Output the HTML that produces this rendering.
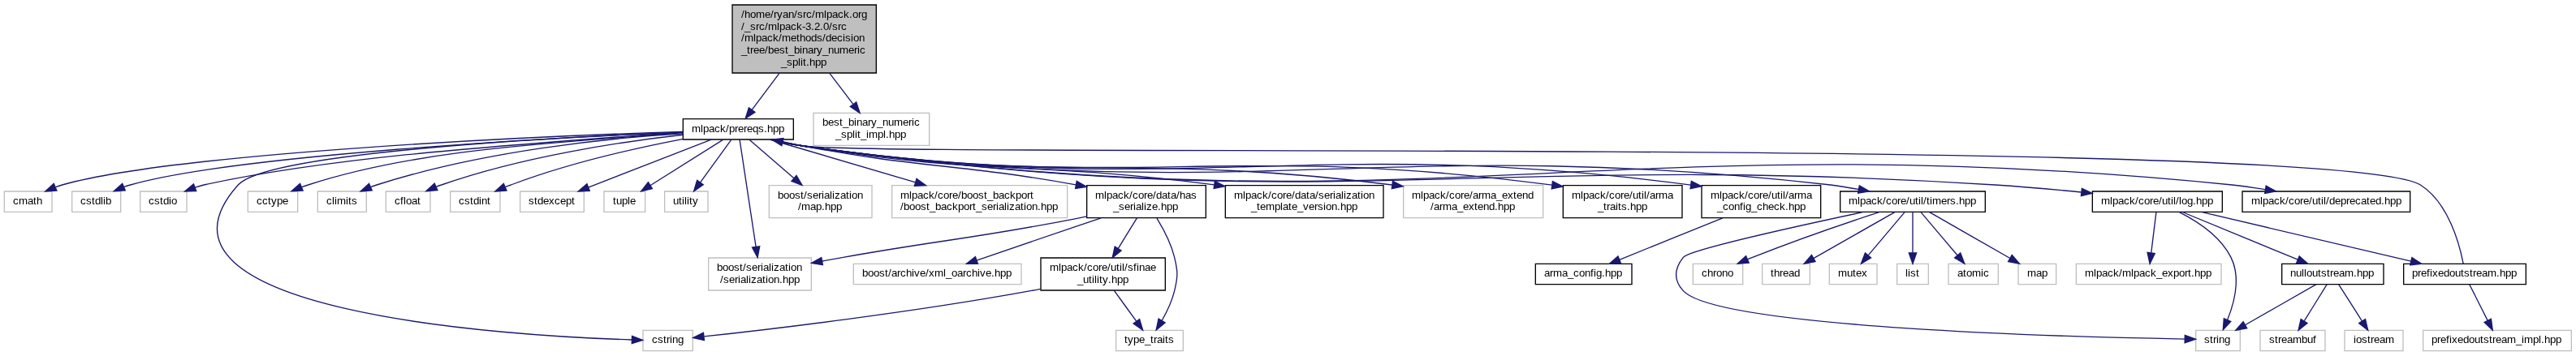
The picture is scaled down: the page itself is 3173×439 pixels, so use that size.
<!DOCTYPE html>
<html lang="en">
<head>
<meta charset="utf-8">
<title>best_binary_numeric_split.hpp include dependency graph</title>
<style>
html,body{margin:0;padding:0;background:#fff;}
body{width:3173px;height:439px;overflow:hidden;}
svg{display:block;will-change:transform;}
svg text{font-family:"Liberation Sans",Helvetica,Arial,sans-serif;font-size:10px;fill:#000;text-anchor:start;}
</style>
</head>
<body>
<svg width="3173" height="439" viewBox="0 0 2379.75 329.25">
<g class="graph" transform="translate(4 325)">
<polygon fill="white" stroke="none" points="-4,4 -4,-325 2375.5,-325 2375.5,4 -4,4"/>
<g class="node">
<polygon fill="#bfbfbf" stroke="black" points="672.5,-257.5 672.5,-320.5 805.5,-320.5 805.5,-257.5 672.5,-257.5"/>
<text x="680.75 683.75 689 694.25 702.5 707.75 710.75 713.75 719 724.25 729.5 732.5 737.75 740.75 746 749 757.25 759.5 764.75 770 775.25 780.5 783.5 788.75 791.75" y="-308.5">/home/ryan/src/mlpack.org</text>
<text x="680.75 683.75 689 694.25 697.25 702.5 705.5 713.75 716 721.25 726.5 731.75 737 740 745.25 748.25 753.5 756.5 761.75 764.75 770 773" y="-297.25">/_src/mlpack-3.2.0/src</text>
<text x="680.75 683.75 692 694.25 699.5 704.75 710 715.25 718.25 726.5 731.75 734.75 740 745.25 750.5 755.75 758.75 764 769.25 774.5 776.75 782 784.25 789.5" y="-286.75">/mlpack/methods/decision</text>
<text x="680.75 686 689 692 697.25 702.5 705.5 710.75 716 721.25 724.25 729.5 734.75 737 742.25 747.5 750.5 755.75 761 766.25 771.5 779.75 785 788 790.25" y="-275.5">_tree/best_binary_numeric</text>
<text x="717.5 722.75 728 733.25 735.5 737.75 740.75 743.75 749 754.25" y="-264.25">_split.hpp</text>
</g>
<g class="node">
<polygon fill="white" stroke="black" points="627,-196 627,-215 729,-215 729,-196 627,-196"/>
<text x="635 643.25 645.5 650.75 656 661.25 666.5 669.5 674.75 677.75 683 686 691.25 696.5 701.75 704.75 710 715.25" y="-202.75">mlpack/prereqs.hpp</text>
</g>
<g class="edge">
<path fill="none" stroke="midnightblue" d="M715.94,-257.19C707.36,-245.73 697.95,-233.16 690.65,-223.4"/>
<polygon fill="midnightblue" stroke="midnightblue" points="693.41,-221.25 684.62,-215.34 687.81,-225.44 693.41,-221.25"/>
</g>
<g class="node">
<polygon fill="white" stroke="#bfbfbf" points="747.5,-190.5 747.5,-220.5 854.5,-220.5 854.5,-190.5 747.5,-190.5"/>
<text x="755.75 761 766.25 771.5 774.5 779.75 785 787.25 792.5 797.75 800.75 806 811.25 816.5 821.75 830 835.25 838.25 840.5" y="-208.75">best_binary_numeric</text>
<text x="767.75 773 778.25 783.5 785.75 788 791 796.25 798.5 806.75 812 814.25 817.25 822.5 827.75" y="-197.5">_split_impl.hpp</text>
</g>
<g class="edge">
<path fill="none" stroke="midnightblue" d="M762.44,-257.19C769.64,-247.72 777.42,-237.49 784.1,-228.72"/>
<polygon fill="midnightblue" stroke="midnightblue" points="787.07,-230.59 790.34,-220.52 781.5,-226.36 787.07,-230.59"/>
</g>
<g class="node">
<polygon fill="white" stroke="#bfbfbf" points="0,-129 0,-148 44,-148 44,-129 0,-129"/>
<text x="8 13.25 21.5 26.75 29.75" y="-136">cmath</text>
</g>
<g class="edge">
<path fill="none" stroke="midnightblue" d="M626.78,-203.2C497.58,-199.31 160.99,-184.12 53.50,-154 51.52,-153.47 49.51,-152.83 47.51,-152.1"/>
<polygon fill="midnightblue" stroke="midnightblue" points="48.43,-148.69 37.86,-148 45.70,-155.13 48.43,-148.69"/>
</g>
<g class="node">
<polygon fill="white" stroke="#bfbfbf" points="62.5,-129 62.5,-148 107.5,-148 107.5,-129 62.5,-129"/>
<text x="70.25 75.5 80.75 83.75 89 91.25 93.5" y="-136">cstdlib</text>
</g>
<g class="edge">
<path fill="none" stroke="midnightblue" d="M626.73,-202.9C506.94,-197.86 211.64,-181.31 116.50,-154 114.56,-153.48 112.60,-152.84 110.65,-152.13"/>
<polygon fill="midnightblue" stroke="midnightblue" points="111.76,-148.8 101.19,-148.13 109.03,-155.25 111.76,-148.8"/>
</g>
<g class="node">
<polygon fill="white" stroke="#bfbfbf" points="125.5,-129 125.5,-148 168.5,-148 168.5,-129 125.5,-129"/>
<text x="133.25 138.5 143.75 146.75 152 154.25" y="-136">cstdio</text>
</g>
<g class="edge">
<path fill="none" stroke="midnightblue" d="M626.98,-202.75C476,-191.39 311,-181.44 184.35,-154 181.68,-153.34 178.95,-152.52 176.24,-151.62"/>
<polygon fill="midnightblue" stroke="midnightblue" points="177.30,-148.27 166.70,-148.05 174.85,-154.83 177.30,-148.27"/>
</g>
<g class="node">
<polygon fill="white" stroke="#bfbfbf" points="590,-0.5 590,-19.5 636,-19.5 636,-0.5 590,-0.5"/>
<text x="598.25 603.5 608.75 611.75 614.75 617 622.25" y="-7.75">cstring</text>
</g>
<g class="edge">
<path fill="none" stroke="midnightblue" d="M626.94,-202.69C512.44,-198.1 243.07,-184.19 216,-154 110.23,-36.04 466.52,-14.4 579.64,-10.74"/>
<polygon fill="midnightblue" stroke="midnightblue" points="579.92,-14.23 589.81,-10.44 579.71,-7.24 579.92,-14.23"/>
</g>
<g class="node">
<polygon fill="white" stroke="#bfbfbf" points="225,-129 225,-148 271,-148 271,-129 225,-129"/>
<text x="233 238.25 243.5 246.5 251.75 257" y="-136">cctype</text>
</g>
<g class="edge">
<path fill="none" stroke="midnightblue" d="M626.98,-202.3C521,-193.25 386,-188.54 280.70,-154 278.76,-153.45 276.79,-152.8 274.83,-152.09"/>
<polygon fill="midnightblue" stroke="midnightblue" points="275.86,-148.73 265.28,-148.15 273.19,-155.2 275.86,-148.73"/>
</g>
<g class="node">
<polygon fill="white" stroke="#bfbfbf" points="289.5,-129 289.5,-148 334.5,-148 334.5,-129 289.5,-129"/>
<text x="297.5 302.75 305 307.25 315.5 317.75 320.75" y="-136">climits</text>
</g>
<g class="edge">
<path fill="none" stroke="midnightblue" d="M626.77,-201.37C560.18,-197.76 440.82,-185.07 344.05,-154 342.17,-153.43 340.27,-152.77 338.36,-152.05"/>
<polygon fill="midnightblue" stroke="midnightblue" points="339.68,-148.8 329.11,-148.08 336.93,-155.24 339.68,-148.8"/>
</g>
<g class="node">
<polygon fill="white" stroke="#bfbfbf" points="352.5,-129 352.5,-148 393.5,-148 393.5,-129 352.5,-129"/>
<text x="360.5 365.75 368.75 371 376.25 381.5" y="-136">cfloat</text>
</g>
<g class="edge">
<path fill="none" stroke="midnightblue" d="M626.81,-200.3C570.81,-194.1 478.9,-180.3 403.80,-154 402.17,-153.47 400.52,-152.87 398.88,-152.22"/>
<polygon fill="midnightblue" stroke="midnightblue" points="400.22,-148.99 389.66,-148.15 397.39,-155.39 400.22,-148.99"/>
</g>
<g class="node">
<polygon fill="white" stroke="#bfbfbf" points="412,-129 412,-148 458,-148 458,-129 412,-129"/>
<text x="419.75 425 430.25 433.25 438.5 440.75 446" y="-136">cstdint</text>
</g>
<g class="edge">
<path fill="none" stroke="midnightblue" d="M627.2,-196.5C585,-188.4 521,-174.1 468.05,-154 466.38,-153.43 464.69,-152.8 462.99,-152.14"/>
<polygon fill="midnightblue" stroke="midnightblue" points="463.99,-148.76 453.41,-148.09 461.26,-155.21 463.99,-148.76"/>
</g>
<g class="node">
<polygon fill="white" stroke="#bfbfbf" points="476.5,-129 476.5,-148 535.5,-148 535.5,-129 476.5,-129"/>
<text x="484.25 489.5 492.5 497.75 503 508.25 513.5 518.75 524" y="-136">stdexcept</text>
</g>
<g class="edge">
<path fill="none" stroke="midnightblue" d="M653.10,-195.87C615.23,-181.14 577.35,-166.41 539.48,-151.68"/>
<polygon fill="midnightblue" stroke="midnightblue" points="538.21,-154.95 530.16,-148.06 540.75,-148.42 538.21,-154.95"/>
</g>
<g class="node">
<polygon fill="white" stroke="#bfbfbf" points="554,-129 554,-148 592,-148 592,-129 554,-129"/>
<text x="562.25 565.25 570.5 575.75 578" y="-136">tuple</text>
</g>
<g class="edge">
<path fill="none" stroke="midnightblue" d="M663.84,-195.73C641.46,-181.64 619.08,-167.55 596.70,-153.46"/>
<polygon fill="midnightblue" stroke="midnightblue" points="594.84,-156.42 588.24,-148.13 598.57,-150.50 594.84,-156.42"/>
</g>
<g class="node">
<polygon fill="white" stroke="#bfbfbf" points="610,-129 610,-148 650,-148 650,-129 610,-129"/>
<text x="617.75 623 626 628.25 630.5 632.75 635.75" y="-136">utility</text>
</g>
<g class="edge">
<path fill="none" stroke="midnightblue" d="M671.53,-195.73C661.97,-182.56 652.41,-169.39 642.85,-156.22"/>
<polygon fill="midnightblue" stroke="midnightblue" points="640.01,-158.28 636.97,-148.13 645.68,-154.17 640.01,-158.28"/>
</g>
<g class="node">
<polygon fill="white" stroke="#bfbfbf" points="650.5,-56.5 650.5,-86.5 745.5,-86.5 745.5,-56.5 650.5,-56.5"/>
<text x="658.25 663.5 668.75 674 679.25 682.25 685.25 690.5 695.75 698.75 701 706.25 708.5 710.75 716 721.25 724.25 726.5 731.75" y="-74.5">boost/serialization</text>
<text x="661.25 664.25 669.5 674.75 677.75 680 685.25 687.5 689.75 695 700.25 703.25 705.5 710.75 716 719 724.25 729.5" y="-63.25">/serialization.hpp</text>
</g>
<g class="edge">
<path fill="none" stroke="midnightblue" d="M679.31,-195.84C682.32,-176.02 689.78,-126.77 694.31,-96.84"/>
<polygon fill="midnightblue" stroke="midnightblue" points="697.8,-97.19 695.84,-86.78 690.88,-96.15 697.8,-97.19"/>
</g>
<g class="node">
<polygon fill="white" stroke="#bfbfbf" points="706.5,-123.5 706.5,-153.5 801.5,-153.5 801.5,-123.5 706.5,-123.5"/>
<text x="714.5 719.75 725 730.25 735.5 738.5 741.5 746.75 752 755 757.25 762.5 764.75 767 772.25 777.5 780.5 782.75 788" y="-141.25">boost/serialization</text>
<text x="733.25 736.25 744.5 749.75 755 758 763.25 768.5" y="-130.75">/map.hpp</text>
</g>
<g class="edge">
<path fill="none" stroke="midnightblue" d="M688.25,-195.73C701.99,-183.86 715.73,-171.99 729.46,-160.13"/>
<polygon fill="midnightblue" stroke="midnightblue" points="727.17,-157.48 737.03,-153.59 731.75,-162.78 727.17,-157.48"/>
</g>
<g class="node">
<polygon fill="white" stroke="#bfbfbf" points="820,-123.5 820,-153.5 982,-153.5 982,-123.5 820,-123.5"/>
<text x="827.75 836 838.25 843.5 848.75 854 859.25 862.25 867.5 872.75 875.75 881 884 889.25 894.5 899.75 905 908 913.25 918.5 923.75 929 934.25 939.5 944.75 947.75" y="-141.25">mlpack/core/boost_backport</text>
<text x="827.75 830.75 836 841.25 846.5 851.75 854.75 860 865.25 870.5 875.75 881 886.25 891.5 894.5 897.5 902.75 908 913.25 916.25 918.5 923.75 926 928.25 933.5 938.75 941.75 944 949.25 954.5 957.5 962.75 968" y="-130.75">/boost_backport_serialization.hpp</text>
</g>
<g class="edge">
<path fill="none" stroke="midnightblue" d="M707.61,-195.87C752.33,-182.70 797.05,-169.53 841.78,-156.36"/>
<polygon fill="midnightblue" stroke="midnightblue" points="840.79,-153.00 851.37,-153.53 842.77,-159.71 840.79,-153.00"/>
</g>
<g class="node">
<polygon fill="white" stroke="black" points="1000,-123.5 1000,-153.5 1110,-153.5 1110,-123.5 1000,-123.5"/>
<text x="1007.75 1016 1018.25 1023.5 1028.75 1034 1039.25 1042.25 1047.5 1052.75 1055.75 1061 1064 1069.25 1074.5 1077.5 1082.75 1085.75 1091 1096.25" y="-141.25">mlpack/core/data/has</text>
<text x="1024.25 1029.5 1034.75 1040 1043 1045.25 1050.5 1052.75 1055 1060.25 1065.5 1068.5 1073.75 1079" y="-130.75">_serialize.hpp</text>
</g>
<g class="edge">
<path fill="none" stroke="midnightblue" d="M710.89,-195.95C719.66,-193.84 729.16,-191.69 738,-190 846.39,-169.24 877.55,-174.25 989.87,-154.11"/>
<polygon fill="midnightblue" stroke="midnightblue" points="990.69,-157.52 999.9,-152.28 989.44,-150.63 990.69,-157.52"/>
</g>
<g class="node">
<polygon fill="white" stroke="black" points="1128,-123.5 1128,-153.5 1274,-153.5 1274,-123.5 1128,-123.5"/>
<text x="1136 1144.25 1146.5 1151.75 1157 1162.25 1167.5 1170.5 1175.75 1181 1184 1189.25 1192.25 1197.5 1202.75 1205.75 1211 1214 1219.25 1224.5 1227.5 1229.75 1235 1237.25 1239.5 1244.75 1250 1253 1255.25 1260.5" y="-141.25">mlpack/core/data/serialization</text>
<text x="1151.75 1157 1160 1165.25 1173.5 1178.75 1181 1186.25 1189.25 1194.5 1199.75 1205 1210.25 1213.25 1218.5 1220.75 1226 1231.25 1234.25 1239.5 1244.75" y="-130.75">_template_version.hpp</text>
</g>
<g class="edge">
<path fill="none" stroke="midnightblue" d="M709.59,-195.97C718.7,-193.75 728.7,-191.56 738,-190 902.56,-162.49 948.7,-176.28 1117.74,-154.09"/>
<polygon fill="midnightblue" stroke="midnightblue" points="1118.28,-157.55 1127.73,-152.76 1117.35,-150.61 1118.28,-157.55"/>
</g>
<g class="node">
<polygon fill="white" stroke="#bfbfbf" points="1292.5,-123.5 1292.5,-153.5 1421.5,-153.5 1421.5,-123.5 1292.5,-123.5"/>
<text x="1300.25 1308.5 1310.75 1316 1321.25 1326.5 1331.75 1334.75 1340 1345.25 1348.25 1353.5 1356.5 1361.75 1364.75 1373 1378.25 1383.5 1388.75 1394 1397 1402.25 1407.5" y="-141.25">mlpack/core/arma_extend</text>
<text x="1317.5 1320.5 1325.75 1328.75 1337 1342.25 1347.5 1352.75 1358 1361 1366.25 1371.5 1376.75 1379.75 1385 1390.25" y="-130.75">/arma_extend.hpp</text>
</g>
<g class="edge">
<path fill="none" stroke="midnightblue" d="M708.94,-195.95C718.22,-193.68 728.47,-191.46 738,-190 974.69,-153.86 1040.5,-184.54 1281.96,-154.01"/>
<polygon fill="midnightblue" stroke="midnightblue" points="1282.63,-157.45 1292.1,-152.7 1281.74,-150.51 1282.63,-157.45"/>
</g>
<g class="node">
<polygon fill="white" stroke="black" points="1440,-123.5 1440,-153.5 1550,-153.5 1550,-123.5 1440,-123.5"/>
<text x="1448 1456.25 1458.5 1463.75 1469 1474.25 1479.5 1482.5 1487.75 1493 1496 1501.25 1504.25 1509.5 1512.5 1514.75 1517 1520 1525.25 1528.25 1536.5" y="-141.25">mlpack/core/util/arma</text>
<text x="1472 1477.25 1480.25 1483.25 1488.5 1490.75 1493.75 1499 1502 1507.25 1512.5" y="-130.75">_traits.hpp</text>
</g>
<g class="edge">
<path fill="none" stroke="midnightblue" d="M708.62,-195.94C717.98,-193.64 728.35,-191.4 738,-190 1039.49,-146.11 1123.07,-194.61 1429.73,-153.84"/>
<polygon fill="midnightblue" stroke="midnightblue" points="1430.35,-157.28 1439.8,-152.48 1429.42,-150.35 1430.35,-157.28"/>
</g>
<g class="node">
<polygon fill="white" stroke="black" points="1568,-123.5 1568,-153.5 1678,-153.5 1678,-123.5 1568,-123.5"/>
<text x="1576.25 1584.5 1586.75 1592 1597.25 1602.5 1607.75 1610.75 1616 1621.25 1624.25 1629.5 1632.5 1637.75 1640.75 1643 1645.25 1648.25 1653.5 1656.5 1664.75" y="-141.25">mlpack/core/util/arma</text>
<text x="1582.25 1587.5 1592.75 1598 1603.25 1606.25 1608.5 1613.75 1619 1624.25 1629.5 1634.75 1640 1645.25 1648.25 1653.5 1658.75" y="-130.75">_config_check.hpp</text>
</g>
<g class="edge">
<path fill="none" stroke="midnightblue" d="M708.3,-195.97C717.74,-193.64 728.24,-191.38 738,-190 1096.38,-139.33 1195.22,-201.41 1557.97,-153.95"/>
<polygon fill="midnightblue" stroke="midnightblue" points="1558.5,-157.41 1567.96,-152.63 1557.58,-150.47 1558.5,-157.41"/>
</g>
<g class="node">
<polygon fill="white" stroke="black" points="1696,-129 1696,-148 1830,-148 1830,-129 1696,-129"/>
<text x="1703.75 1712 1714.25 1719.5 1724.75 1730 1735.25 1738.25 1743.5 1748.75 1751.75 1757 1760 1765.25 1768.25 1770.5 1772.75 1775.75 1778.75 1781 1789.25 1794.5 1797.5 1802.75 1805.75 1811 1816.25" y="-136">mlpack/core/util/timers.hpp</text>
</g>
<g class="edge">
<path fill="none" stroke="midnightblue" d="M708.3,-195.94C717.74,-193.6 728.23,-191.35 738,-190 1156.1,-132.14 1267.62,-201.69 1687,-154 1694.8,-152.99 1703.9,-151.51 1712.85,-149.89"/>
<polygon fill="midnightblue" stroke="midnightblue" points="1713.72,-153.29 1722.91,-148.01 1712.44,-146.41 1713.72,-153.29"/>
</g>
<g class="node">
<polygon fill="white" stroke="black" points="1929,-129 1929,-148 2049,-148 2049,-129 1929,-129"/>
<text x="1937 1945.25 1947.5 1952.75 1958 1963.25 1968.5 1971.5 1976.75 1982 1985 1990.25 1993.25 1998.5 2001.5 2003.75 2006 2009 2011.25 2016.5 2021.75 2024.75 2030 2035.25" y="-136">mlpack/core/util/log.hpp</text>
</g>
<g class="edge">
<path fill="none" stroke="midnightblue" d="M707.99,-195.98C717.51,-193.62 728.12,-191.34 738,-190 1223.15,-121.9 1350.42,-185.57 1839,-154 1865.04,-152.32 1893.57,-149.74 1918.68,-147.23"/>
<polygon fill="midnightblue" stroke="midnightblue" points="1919.26,-150.69 1928.86,-146.2 1918.55,-143.73 1919.26,-150.69"/>
</g>
<g class="node">
<polygon fill="white" stroke="black" points="2067.5,-129 2067.5,-148 2222.5,-148 2222.5,-129 2067.5,-129"/>
<text x="2075.75 2084 2086.25 2091.5 2096.75 2102 2107.25 2110.25 2115.5 2120.75 2123.75 2129 2132 2137.25 2140.25 2142.5 2144.75 2147.75 2153 2158.25 2163.5 2166.5 2171.75 2177 2182.25 2185.25 2190.5 2195.75 2198.75 2204 2209.25" y="-136">mlpack/core/util/deprecated.hpp</text>
</g>
<g class="edge">
<path fill="none" stroke="midnightblue" d="M707.98,-195.95C717.5,-193.59 728.12,-191.31 738,-190 1319.76,-108.8 1473.83,-212.5 2058,-154 2067.5,-152.97 2078.0,-151.43 2088.52,-149.73"/>
<polygon fill="midnightblue" stroke="midnightblue" points="2089.4,-153.13 2098.7,-148.06 2088.26,-146.23 2089.4,-153.13"/>
</g>
<g class="edge">
<path fill="none" stroke="midnightblue" d="M999.88,-124.8C996.88,-124.18 993.91,-123.57 991,-123 895.5,-104.24 870.83,-104.01 775,-87 768.76,-85.89 762.24,-84.71 755.75,-83.51"/>
<polygon fill="midnightblue" stroke="midnightblue" points="756.09,-80.01 745.62,-81.63 754.81,-86.9 756.09,-80.01"/>
</g>
<g class="node">
<polygon fill="white" stroke="black" points="957.5,-56.5 957.5,-86.5 1072.5,-86.5 1072.5,-56.5 957.5,-56.5"/>
<text x="965.75 974 976.25 981.5 986.75 992 997.25 1000.25 1005.5 1010.75 1013.75 1019 1022 1027.25 1030.25 1032.5 1034.75 1037.75 1043 1046 1048.25 1053.5 1058.75" y="-74.5">mlpack/core/util/sfinae</text>
<text x="991.25 996.5 1001.75 1004.75 1007 1009.25 1011.5 1014.5 1019.75 1022.75 1028 1033.25" y="-63.25">_utility.hpp</text>
</g>
<g class="edge">
<path fill="none" stroke="midnightblue" d="M1046.32,-123.4C1041.24,-115.13 1034.7,-104.51 1028.91,-95.1"/>
<polygon fill="midnightblue" stroke="midnightblue" points="1031.88,-93.26 1023.66,-86.58 1025.92,-96.93 1031.88,-93.26"/>
</g>
<g class="node">
<polygon fill="white" stroke="#bfbfbf" points="1027,-0.5 1027,-19.5 1089,-19.5 1089,-0.5 1027,-0.5"/>
<text x="1034.75 1037.75 1043 1048.25 1053.5 1058.75 1061.75 1064.75 1070 1072.25 1075.25" y="-7.75">type_traits</text>
</g>
<g class="edge">
<path fill="none" stroke="midnightblue" d="M1064.7,-123.21C1070.7,-113.47 1077.84,-100.03 1081,-87 1084.24,-73.61 1084.22,-69.4 1081,-56 1078.69,-46.42 1073.98,-36.58 1069.42,-28.56"/>
<polygon fill="midnightblue" stroke="midnightblue" points="1072.29,-26.54 1064.1,-19.81 1066.31,-30.17 1072.29,-26.54"/>
</g>
<g class="node">
<polygon fill="white" stroke="#bfbfbf" points="784.5,-62 784.5,-81 939.5,-81 939.5,-62 784.5,-62"/>
<text x="792.5 797.75 803 808.25 813.5 816.5 819.5 824.75 827.75 833 838.25 840.5 845.75 851 854 859.25 867.5 869.75 875 880.25 885.5 888.5 893.75 899 901.25 906.5 911.75 914.75 920 925.25" y="-69.25">boost/archive/xml_oarchive.hpp</text>
</g>
<g class="edge">
<path fill="none" stroke="midnightblue" d="M1013.12,-123.40C974.82,-110.35 936.52,-97.29 898.23,-84.24"/>
<polygon fill="midnightblue" stroke="midnightblue" points="897.10,-87.55 888.76,-81.01 899.35,-80.92 897.10,-87.55"/>
</g>
<g class="edge">
<path fill="none" stroke="midnightblue" d="M957.31,-57.71C954.17,-57.11 951.05,-56.53 948,-56 838.12,-35.9 706.72,-20.3 646.34,-13.79"/>
<polygon fill="midnightblue" stroke="midnightblue" points="646.57,-10.29 636.25,-12.68 645.81,-17.25 646.57,-10.29"/>
</g>
<g class="edge">
<path fill="none" stroke="midnightblue" d="M1025.19,-56.4C1031.37,-47.84 1039.3,-36.87 1045.82,-27.86"/>
<polygon fill="midnightblue" stroke="midnightblue" points="1048.72,-29.81 1051.74,-19.66 1043.05,-25.71 1048.72,-29.81"/>
</g>
<g class="node">
<polygon fill="white" stroke="black" points="1414.5,-62 1414.5,-81 1503.5,-81 1503.5,-62 1414.5,-62"/>
<text x="1422.5 1427.75 1430.75 1439 1444.25 1449.5 1454.75 1460 1465.25 1468.25 1470.5 1475.75 1478.75 1484 1489.25" y="-69.25">arma_config.hpp</text>
</g>
<g class="edge">
<path fill="none" stroke="midnightblue" d="M1587.41,-123.40C1555.62,-110.52 1523.82,-97.64 1492.03,-84.76"/>
<polygon fill="midnightblue" stroke="midnightblue" points="1490.71,-88.01 1482.76,-81.01 1493.34,-81.52 1490.71,-88.01"/>
</g>
<g class="node">
<polygon fill="white" stroke="#bfbfbf" points="1560,-62 1560,-81 1606,-81 1606,-62 1560,-62"/>
<text x="1568 1573.25 1578.5 1581.5 1586.75 1592" y="-69.25">chrono</text>
</g>
<g class="edge">
<path fill="none" stroke="midnightblue" d="M1732.6,-128.97C1703.5,-119.51 1656.4,-103.4 1615,-87 1613.58,-86.44 1612.14,-85.85 1610.68,-85.24"/>
<polygon fill="midnightblue" stroke="midnightblue" points="1611.71,-81.87 1601.15,-81.09 1608.92,-88.29 1611.71,-81.87"/>
</g>
<g class="node">
<polygon fill="white" stroke="#bfbfbf" points="2024.5,-0.5 2024.5,-19.5 2065.5,-19.5 2065.5,-0.5 2024.5,-0.5"/>
<text x="2032.25 2037.5 2040.5 2043.5 2045.75 2051" y="-7.75">string</text>
</g>
<g class="edge">
<path fill="none" stroke="midnightblue" d="M1717.8,-128.97C1659,-116.43 1556.33,-93.75 1551,-87 1542.46,-76.19 1541.71,-66.17 1551,-56 1582.3,-21.72 1911.32,-13.26 2014.34,-11.45"/>
<polygon fill="midnightblue" stroke="midnightblue" points="2014.47,-14.95 2024.41,-11.28 2014.35,-7.95 2014.47,-14.95"/>
</g>
<g class="node">
<polygon fill="white" stroke="#bfbfbf" points="1624,-62 1624,-81 1668,-81 1668,-62 1624,-62"/>
<text x="1631.75 1634.75 1640 1643 1648.25 1653.5" y="-69.25">thread</text>
</g>
<g class="edge">
<path fill="none" stroke="midnightblue" d="M1746.40,-128.73C1721.37,-114.51 1696.35,-100.29 1671.32,-86.07"/>
<polygon fill="midnightblue" stroke="midnightblue" points="1669.60,-89.11 1662.63,-81.13 1673.05,-83.03 1669.60,-89.11"/>
</g>
<g class="node">
<polygon fill="white" stroke="#bfbfbf" points="1686,-62 1686,-81 1730,-81 1730,-62 1686,-62"/>
<text x="1694 1702.25 1707.5 1710.5 1715.75" y="-69.25">mutex</text>
</g>
<g class="edge">
<path fill="none" stroke="midnightblue" d="M1755.58,-128.73C1747.01,-118.6 1732.7,-101.69 1722.01,-89.06"/>
<polygon fill="midnightblue" stroke="midnightblue" points="1724.43,-86.5 1715.3,-81.13 1719.09,-91.02 1724.43,-86.5"/>
</g>
<g class="node">
<polygon fill="white" stroke="#bfbfbf" points="1748.5,-62 1748.5,-81 1777.5,-81 1777.5,-62 1748.5,-62"/>
<text x="1756.25 1758.5 1760.75 1766" y="-69.25">list</text>
</g>
<g class="edge">
<path fill="none" stroke="midnightblue" d="M1763,-128.73C1763,-119.18 1763,-103.62 1763,-91.28"/>
<polygon fill="midnightblue" stroke="midnightblue" points="1766.5,-91.13 1763,-81.13 1759.5,-91.13 1766.5,-91.13"/>
</g>
<g class="node">
<polygon fill="white" stroke="#bfbfbf" points="1796,-62 1796,-81 1842,-81 1842,-62 1796,-62"/>
<text x="1804.25 1809.5 1812.5 1817.75 1826 1828.25" y="-69.25">atomic</text>
</g>
<g class="edge">
<path fill="none" stroke="midnightblue" d="M1770.55,-128.73C1781.84,-115.41 1793.12,-102.08 1804.41,-88.76"/>
<polygon fill="midnightblue" stroke="midnightblue" points="1801.74,-86.50 1810.87,-81.13 1807.08,-91.02 1801.74,-86.50"/>
</g>
<g class="node">
<polygon fill="white" stroke="#bfbfbf" points="1860.5,-62 1860.5,-81 1895.5,-81 1895.5,-62 1860.5,-62"/>
<text x="1868.75 1877 1882.25" y="-69.25">map</text>
</g>
<g class="edge">
<path fill="none" stroke="midnightblue" d="M1778.51,-128.73C1803.33,-114.52 1828.14,-100.31 1852.96,-86.10"/>
<polygon fill="midnightblue" stroke="midnightblue" points="1851.22,-83.06 1861.64,-81.13 1854.70,-89.14 1851.22,-83.06"/>
</g>
<g class="edge">
<path fill="none" stroke="midnightblue" d="M2008.9,-128.99C2025.16,-120.84 2047.02,-106.84 2057,-87 2066.16,-68.79 2060.14,-45.29 2053.78,-29.27"/>
<polygon fill="midnightblue" stroke="midnightblue" points="2056.92,-27.72 2049.71,-19.96 2050.5,-30.53 2056.92,-27.72"/>
</g>
<g class="node">
<polygon fill="white" stroke="#bfbfbf" points="1914,-62 1914,-81 2048,-81 2048,-62 1914,-62"/>
<text x="1922 1930.25 1932.5 1937.75 1943 1948.25 1953.5 1956.5 1964.75 1967 1972.25 1977.5 1982.75 1988 1993.25 1998.5 2003.75 2009 2014.25 2017.25 2020.25 2023.25 2028.5 2033.75" y="-69.25">mlpack/mlpack_export.hpp</text>
</g>
<g class="edge">
<path fill="none" stroke="midnightblue" d="M1987.92,-128.73C1986.75,-119.18 1984.83,-103.62 1983.31,-91.28"/>
<polygon fill="midnightblue" stroke="midnightblue" points="1986.76,-90.62 1982.06,-81.13 1979.81,-91.48 1986.76,-90.62"/>
</g>
<g class="node">
<polygon fill="white" stroke="black" points="2216.5,-62 2216.5,-81 2329.5,-81 2329.5,-62 2216.5,-62"/>
<text x="2224.25 2229.5 2232.5 2237.75 2240.75 2243 2248.25 2253.5 2258.75 2264 2269.25 2272.25 2277.5 2280.5 2283.5 2288.75 2294 2302.25 2305.25 2310.5 2315.75" y="-69.25">prefixedoutstream.hpp</text>
</g>
<g class="edge">
<path fill="none" stroke="midnightblue" d="M2029.60,-128.94C2094.19,-113.75 2158.78,-98.56 2223.37,-83.37"/>
<polygon fill="midnightblue" stroke="midnightblue" points="2222.56,-79.96 2233.10,-81.08 2224.17,-86.78 2222.56,-79.96"/>
</g>
<g class="node">
<polygon fill="white" stroke="black" points="2104,-62 2104,-81 2198,-81 2198,-62 2104,-62"/>
<text x="2111.75 2117 2122.25 2124.5 2126.75 2132 2137.25 2140.25 2145.5 2148.5 2151.5 2156.75 2162 2170.25 2173.25 2178.5 2183.75" y="-69.25">nulloutstream.hpp</text>
</g>
<g class="edge">
<path fill="none" stroke="midnightblue" d="M2012.10,-128.87C2047.67,-114.20 2083.24,-99.54 2118.81,-84.87"/>
<polygon fill="midnightblue" stroke="midnightblue" points="2117.48,-81.64 2128.06,-81.06 2120.15,-88.11 2117.48,-81.64"/>
</g>
<g class="edge">
<path fill="none" stroke="midnightblue" d="M2271.62,-81.1C2268.33,-98.44 2258.23,-137.39 2232,-154 2161.85,-198.41 820.32,-179.19 738,-190 731.52,-190.85 725.6,-192.0 719.31,-193.56"/>
<polygon fill="midnightblue" stroke="midnightblue" points="718.12,-190.25 709.18,-195.93 719.71,-197.06 718.12,-190.25"/>
</g>
<g class="node">
<polygon fill="white" stroke="#bfbfbf" points="2234.5,-0.5 2234.5,-19.5 2371.5,-19.5 2371.5,-0.5 2234.5,-0.5"/>
<text x="2242.25 2247.5 2250.5 2255.75 2258.75 2261 2266.25 2271.5 2276.75 2282 2287.25 2290.25 2295.5 2298.5 2301.5 2306.75 2312 2320.25 2325.5 2327.75 2336 2341.25 2343.5 2346.5 2351.75 2357" y="-7.75">prefixedoutstream_impl.hpp</text>
</g>
<g class="edge">
<path fill="none" stroke="midnightblue" d="M2277.3,-61.98C2281.66,-53.32 2288.56,-39.65 2294.1,-28.65"/>
<polygon fill="midnightblue" stroke="midnightblue" points="2297.33,-30.01 2298.71,-19.51 2291.08,-26.86 2297.33,-30.01"/>
</g>
<g class="edge">
<path fill="none" stroke="midnightblue" d="M2135.81,-61.98C2113.89,-49.47 2091.97,-36.97 2070.05,-24.46"/>
<polygon fill="midnightblue" stroke="midnightblue" points="2068.31,-27.51 2061.36,-19.51 2071.78,-21.42 2068.31,-27.51"/>
</g>
<g class="node">
<polygon fill="white" stroke="#bfbfbf" points="2162,-0.5 2162,-19.5 2216,-19.5 2216,-0.5 2162,-0.5"/>
<text x="2170.25 2172.5 2177.75 2183 2186 2189 2194.25 2199.5" y="-7.75">iostream</text>
</g>
<g class="edge">
<path fill="none" stroke="midnightblue" d="M2156.44,-61.98C2162.09,-53.14 2171.06,-39.09 2178.16,-27.98"/>
<polygon fill="midnightblue" stroke="midnightblue" points="2181.13,-29.82 2183.57,-19.51 2175.23,-26.05 2181.13,-29.82"/>
</g>
<g class="node">
<polygon fill="white" stroke="#bfbfbf" points="2084,-0.5 2084,-19.5 2144,-19.5 2144,-0.5 2084,-0.5"/>
<text x="2092.25 2097.5 2100.5 2103.5 2108.75 2114 2122.25 2127.5 2132.75" y="-7.75">streambuf</text>
</g>
<g class="edge">
<path fill="none" stroke="midnightblue" d="M2145.7,-61.98C2140.26,-53.23 2131.64,-39.37 2124.76,-28.31"/>
<polygon fill="midnightblue" stroke="midnightblue" points="2127.54,-26.15 2119.29,-19.51 2121.6,-29.85 2127.54,-26.15"/>
</g>
</g>
</svg>
</body>
</html>
